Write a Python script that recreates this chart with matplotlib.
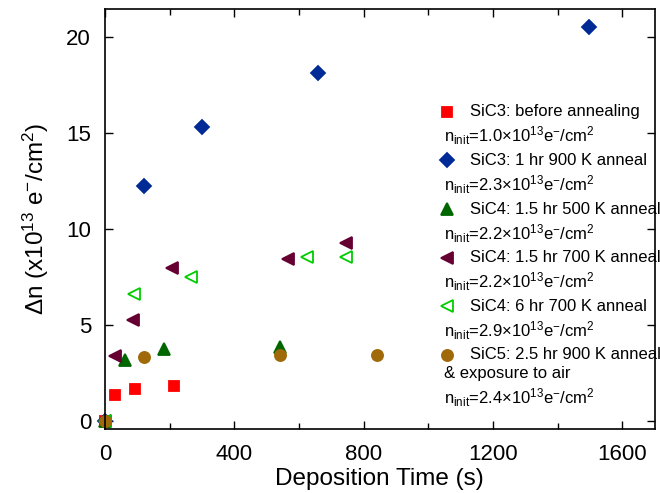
import matplotlib
matplotlib.use("Agg")
import matplotlib.pyplot as plt
from matplotlib.ticker import MultipleLocator

plt.rcParams['font.family'] = ['Liberation Sans', 'DejaVu Sans']
plt.rcParams['mathtext.default'] = 'regular'

# Data (deposition time in s, delta n in 1e13 e-/cm2)
t_sic3_before = [0, 32, 94, 214]
n_sic3_before = [0, 1.34, 1.63, 1.81]

t_sic3_900 = [0, 121, 301, 660, 1498]
n_sic3_900 = [0, 12.2, 15.3, 18.1, 20.5]

t_sic4_500 = [0, 61, 182, 541]
n_sic4_500 = [0, 3.16, 3.73, 3.85]

t_sic4_700 = [0, 30, 88, 208, 566, 745]
n_sic4_700 = [0, 3.37, 5.26, 7.94, 8.44, 9.27]

t_sic4_6hr = [0, 89, 267, 626, 745]
n_sic4_6hr = [0, 6.58, 7.5, 8.51, 8.51]

t_sic5 = [0, 121, 541, 840]
n_sic5 = [0, 3.33, 3.42, 3.42]

labels = ["SiC3: before annealing",
          "SiC3: 1 hr 900 K anneal",
          "SiC4: 1.5 hr 500 K anneal",
          "SiC4: 1.5 hr 700 K anneal",
          "SiC4: 6 hr 700 K anneal",
          "SiC5: 2.5 hr 900 K anneal"]
n_init = ["1.0", "2.3", "2.2", "2.2", "2.9", "2.4"]

# (x, y, marker, size, color, filled)
series = [
    (t_sic3_before, n_sic3_before, 's', 7.5, '#ff0000', True),
    (t_sic3_900, n_sic3_900, 'D', 7.5, '#002b96', True),
    (t_sic4_500, n_sic4_500, '^', 8.5, '#006600', True),
    (t_sic4_700, n_sic4_700, '<', 8.5, '#660033', True),
    (t_sic4_6hr, n_sic4_6hr, '<', 8.5, '#00cc00', False),
    (t_sic5, n_sic5, 'o', 8, '#a0690a', True),
]

fig = plt.figure(figsize=(6.6, 4.93), dpi=100)
ax = fig.add_axes([0.159, 0.130, 0.833, 0.852])

for x, y, m, ms, c, filled in series:
    ax.plot(x, y, linestyle='none', marker=m, markersize=ms,
            markerfacecolor=c if filled else 'none', markeredgecolor=c,
            markeredgewidth=1.3, clip_on=False)

ax.set_xlim(0, 1700)
ax.set_ylim(-0.43, 21.45)
ax.xaxis.set_major_locator(MultipleLocator(400))
ax.xaxis.set_minor_locator(MultipleLocator(200))
ax.yaxis.set_major_locator(MultipleLocator(5))
ax.tick_params(which='both', direction='in', top=True, right=True,
               labelsize=16, width=1)
ax.tick_params(which='major', length=6)
ax.tick_params(which='minor', length=4)
ax.tick_params(axis='x', pad=11)
ax.tick_params(axis='y', pad=10)
for s in ax.spines.values():
    s.set_linewidth(1.2)

ax.set_xlabel("Deposition Time (s)", fontsize=17.5, labelpad=2)
ax.set_ylabel(r"$\Delta$n (x10$^{13}$ e$^{-}$/cm$^{2}$)", fontsize=17.5, labelpad=11)

# hand-made legend on the right
ty = 1 - (112 - 9) / 420
step = 24.3 / 420
for i, (x, y, m, ms, c, filled) in enumerate(series):
    ax.plot(0.622, ty, transform=ax.transAxes, linestyle='none', marker=m,
            markersize=ms, markerfacecolor=c if filled else 'none',
            markeredgecolor=c, markeredgewidth=1.3, clip_on=False)
    ax.text(0.664, ty, labels[i], transform=ax.transAxes, fontsize=12,
            va='center', ha='left')
    ty -= step
    if i == len(series) - 1:
        ty += 0.25 * step
        ax.text(0.617, ty, "& exposure to air", transform=ax.transAxes,
                fontsize=12, va='center', ha='left')
        ty -= step
    ax.text(0.617, ty, r"n$_{init}$=" + n_init[i] + r"×10$^{13}$e$^{-}$/cm$^{2}$",
            transform=ax.transAxes, fontsize=12, va='center', ha='left')
    ty -= step

fig.savefig("out.png", dpi=100)
